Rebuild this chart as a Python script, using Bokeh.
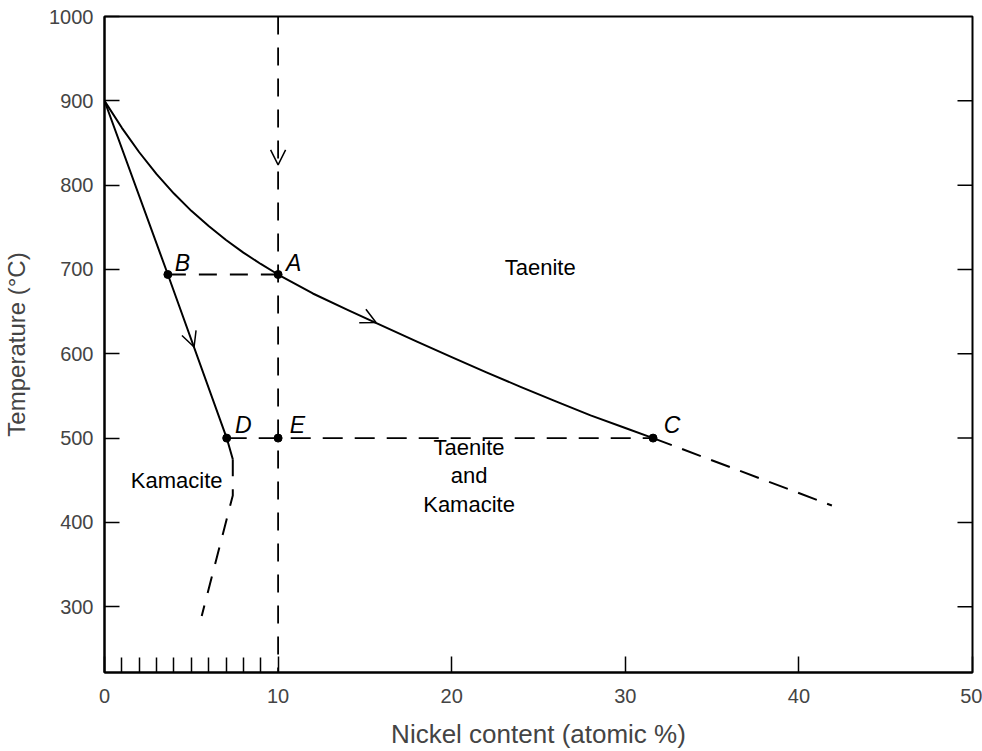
import math
from bokeh.plotting import figure
from bokeh.models import Range1d, FixedTicker, Arrow, OpenHead
from bokeh.core.properties import value
from bokeh.embed import file_html
from bokeh.resources import INLINE

# ---------------- data ----------------
x_major_ticks = [0, 10, 20, 30, 40, 50]
x_minor_ticks = [1, 2, 3, 4, 5, 6, 7, 8, 9]
y_ticks = [300, 400, 500, 600, 700, 800, 900, 1000]
right_tick_x = [50, 50, 50, 50, 50, 50, 50]
right_tick_T = [300, 400, 500, 600, 700, 800, 900]

# Taenite boundary (solid) and its dashed continuation
taenite_x = [0, 1, 2, 3, 4, 5, 6, 7, 8, 9, 10, 12, 14, 15.6, 18, 20, 22, 24, 26, 28, 30, 31.6]
taenite_T = [900, 868, 839, 813, 790, 769.5, 751.5, 735, 720, 706.5, 694, 671.5, 652, 637,
             614.5, 596, 578, 560.5, 543.5, 527, 512, 500]
taenite_ext_x = [31.6, 41.9]
taenite_ext_T = [500, 420]

# Kamacite boundary (solid) and dashed continuation
kamacite_x = [0, 3.65, 7.04, 7.39]
kamacite_T = [900, 694, 500, 475]
kamacite_ext_x = [7.39, 7.39, 5.6]
kamacite_ext_T = [475, 432, 289]

# cooling path guide lines
vert_x = [10, 10]
vert_T = [1000, 222]
ba_x = [3.65, 10]
ba_T = [694, 694]
dc_x = [7.04, 31.6]
dc_T = [500, 500]

# marked points
pt_names = ["A", "B", "C", "D", "E"]
pt_x = [10, 3.65, 31.6, 7.04, 10]
pt_T = [694, 694, 500, 500, 500]
ptlab_x = [10.89, 4.49, 32.7, 8.0, 11.12]
ptlab_T = [708, 708, 515, 515, 515]

# region labels
region_text = ["Taenite", "Taenite", "and", "Kamacite"]
region_x = [25.1, 21.0, 21.0, 21.0]
region_T = [702, 489, 456, 421]
kam_label = ["Kamacite"]
kam_label_x = [6.8]
kam_label_T = [450]

# direction arrows (start -> tip)
arrow_x0 = [10, 14.6, 4.95]
arrow_T0 = [842, 647.6, 620]
arrow_x1 = [10, 15.64, 5.16]
arrow_T1 = [824, 637, 608]

FONT = "Liberation Sans"

p = figure(width=982, height=751,
           x_range=Range1d(0, 50), y_range=Range1d(222, 1000),
           output_backend="svg", toolbar_location=None,
           min_border_left=104, min_border_right=10,
           min_border_top=16, min_border_bottom=77)
p.xgrid.visible = False
p.ygrid.visible = False
p.outline_line_color = "black"
p.outline_line_width = 2
p.background_fill_color = "white"
p.border_fill_color = "white"

# x axis
xa = p.xaxis[0]
xa.ticker = FixedTicker(ticks=x_major_ticks, minor_ticks=x_minor_ticks)
xa.axis_label = "Nickel content (atomic %)"
xa.axis_label_text_font = FONT
xa.axis_label_text_font_size = "26px"
xa.axis_label_text_font_style = "normal"
xa.axis_label_standoff = 13
xa.major_label_text_font = FONT
xa.major_label_text_font_size = "20px"
xa.major_label_standoff = 16
xa.axis_line_width = 2
xa.major_tick_in = 16
xa.major_tick_out = 0
xa.minor_tick_in = 15
xa.minor_tick_out = 0
xa.major_tick_line_width = 1.5
xa.minor_tick_line_width = 1.5

# y axis
ya = p.yaxis[0]
ya.ticker = FixedTicker(ticks=y_ticks)
ya.axis_label = "Temperature (°C)"
ya.axis_label_text_font = FONT
ya.axis_label_text_font_size = "24px"
ya.axis_label_text_font_style = "normal"
ya.axis_label_standoff = 16
ya.major_label_text_font = FONT
ya.major_label_text_font_size = "20px"
ya.major_label_standoff = 11
ya.axis_line_width = 2
ya.major_tick_in = 15
ya.major_tick_out = 0
ya.minor_tick_line_color = None
ya.major_tick_line_width = 1.5

# right-side tick marks (pointing inward)
p.ray(right_tick_x, right_tick_T, length=15, length_units="screen", angle=math.pi,
      line_color="black", line_width=1.5)

# curves
p.line(taenite_x, taenite_T, line_color="black", line_width=2, line_join="round")
p.line(taenite_ext_x, taenite_ext_T, line_color="black", line_width=2, line_dash="20 11")
p.line(kamacite_x, kamacite_T, line_color="black", line_width=2, line_join="round")
p.line(kamacite_ext_x, kamacite_ext_T, line_color="black", line_width=2, line_dash="17 13")
p.line(vert_x, vert_T, line_color="black", line_width=1.8, line_dash="18 13")
p.line(ba_x, ba_T, line_color="black", line_width=1.8, line_dash="18 13")
p.line(dc_x, dc_T, line_color="black", line_width=1.8, line_dash="20 12")

# points
p.scatter(pt_x, pt_T, size=8, color="black")

# point labels
p.text(ptlab_x, ptlab_T, text=pt_names, text_font=value(FONT), text_font_size="23px",
       text_font_style="italic", text_align="center", text_baseline="middle", text_color="black")

# region labels
p.text(region_x, region_T, text=region_text, text_font=value(FONT), text_font_size="22px",
       text_align="center", text_baseline="middle", text_color="black")
p.text(kam_label_x, kam_label_T, text=kam_label, text_font=value(FONT), text_font_size="22px",
       text_align="right", text_baseline="middle", text_color="black")

# arrows
for xs, ys, xe, ye in zip(arrow_x0, arrow_T0, arrow_x1, arrow_T1):
    p.add_layout(Arrow(end=OpenHead(size=15, line_width=1.5, line_color="black"),
                       x_start=xs, y_start=ys, x_end=xe, y_end=ye,
                       line_alpha=0))

open("out.html", "w").write(file_html(p, INLINE))
